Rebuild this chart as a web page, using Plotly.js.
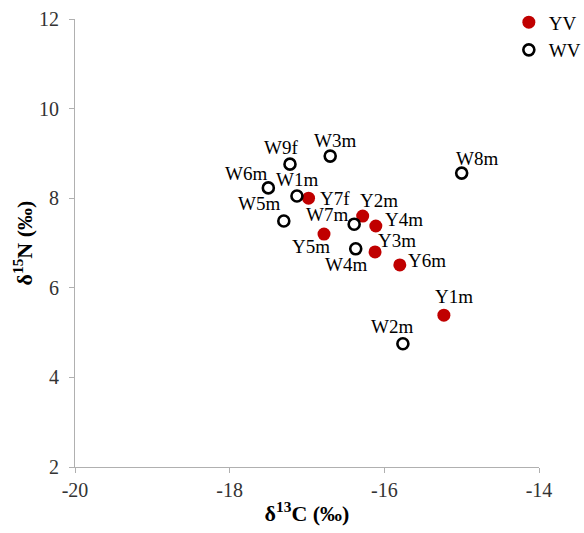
<!DOCTYPE html>
<html>
<head>
<meta charset="utf-8">
<script src="https://cdn.plot.ly/plotly-3.0.1.min.js"></script>
<style>html,body{margin:0;padding:0;background:#fff;}#chart{width:584px;height:533px;}</style>
</head>
<body>
<div id="chart"></div>
<script>
// YV series
var yvNames = ["Y1m","Y2m","Y3m","Y4m","Y5m","Y6m","Y7f"];
var yvC = [-15.23,-16.28,-16.12,-16.11,-16.78,-15.80,-16.98];
var yvN = [5.39,7.60,6.80,7.38,7.20,6.51,8.00];
// WV series
var wvNames = ["W1m","W2m","W3m","W4m","W5m","W6m","W7m","W8m","W9f"];
var wvC = [-17.13,-15.76,-16.70,-16.37,-17.30,-17.50,-16.39,-15.00,-17.22];
var wvN = [8.05,4.75,8.94,6.87,7.49,8.23,7.42,8.56,8.76];
// axis ticks
var xTicks = [-20,-18,-16,-14];
var yTicks = [2,4,6,8,10,12];

// label pixel offsets (style only)
var yvShift = {"Y1m":[10,19],"Y2m":[16,16],"Y3m":[22,11],"Y4m":[28,6],"Y5m":[-13,-12],"Y6m":[27,4],"Y7f":[26,0]};
var wvShift = {"W1m":[0,16],"W2m":[-11,17],"W3m":[5,16],"W4m":[-10,-16],"W5m":[-25,18],"W6m":[-22,14],"W7m":[-27,10],"W8m":[15,15],"W9f":[-9,17]};

var serif = "Liberation Serif, Times New Roman, serif";

var traces = [
  {x: yvC, y: yvN, name: "YV", type: "scatter", mode: "markers", text: yvNames,
   marker: {symbol: "circle", size: 13, color: "#C00000", line: {width: 0}}},
  {x: wvC, y: wvN, name: "WV", type: "scatter", mode: "markers", text: wvNames,
   marker: {symbol: "circle", size: 11, color: "#ffffff", line: {width: 2.6, color: "#000000"}}}
];

var annotations = [];
function addLabels(names, xs, ys, shifts) {
  for (var i = 0; i < names.length; i++) {
    var s = shifts[names[i]];
    annotations.push({x: xs[i], y: ys[i], xref: "x", yref: "y", text: names[i], showarrow: false,
      xshift: s[0], yshift: s[1], font: {family: serif, size: 19, color: "#000"}});
  }
}
addLabels(yvNames, yvC, yvN, yvShift);
addLabels(wvNames, wvC, wvN, wvShift);

var layout = {
  width: 584, height: 533,
  margin: {l: 75, r: 45, t: 19, b: 66, autoexpand: false},
  paper_bgcolor: "#fff", plot_bgcolor: "#fff",
  font: {family: serif, color: "#222"},
  showlegend: true,
  legend: {x: 0.935, y: 1.035, xanchor: "left", yanchor: "top", bgcolor: "rgba(0,0,0,0)",
    font: {family: serif, size: 19, color: "#000"}, itemwidth: 30},
  xaxis: {range: [-20, -14], tickvals: xTicks, ticktext: xTicks.map(String),
    showgrid: false, zeroline: false, showline: true, linecolor: "#b0b0b0", linewidth: 1,
    ticks: "outside", ticklen: 5, tickcolor: "#b0b0b0", tickfont: {family: serif, size: 20, color: "#333"},
    title: {text: "<b>δ<sup>13</sup>C (‰)</b>", font: {family: serif, size: 22, color: "#000"}, standoff: 5}},
  yaxis: {range: [2, 12], tickvals: yTicks, ticktext: yTicks.map(String),
    showgrid: false, zeroline: false, showline: true, linecolor: "#b0b0b0", linewidth: 1,
    ticks: "outside", ticklen: 5, tickcolor: "#b0b0b0", tickfont: {family: serif, size: 20, color: "#333"},
    ticklabelstandoff: 6,
    title: {text: "<b>δ<sup>15</sup>N (‰)</b>", font: {family: serif, size: 22, color: "#000"}, standoff: 0}},
  annotations: annotations
};

Plotly.newPlot("chart", traces, layout, {displayModeBar: false, staticPlot: true});
</script>
</body>
</html>
